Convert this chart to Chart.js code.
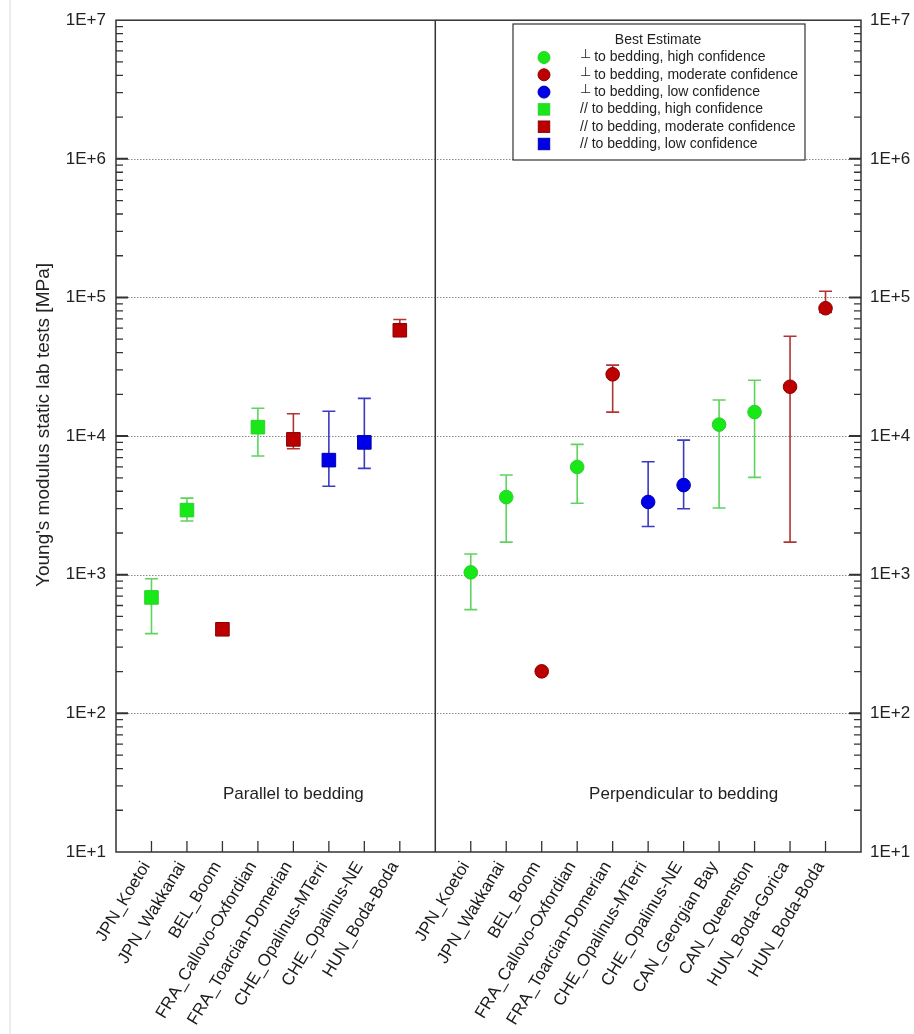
<!DOCTYPE html>
<html>
<head>
<meta charset="utf-8">
<title>Young's modulus static lab tests</title>
<script src="https://cdn.jsdelivr.net/npm/chart.js@4.4.0/dist/chart.umd.min.js"></script>
<style>
  body { margin: 0; background: #fff; }
  #wrap { position: relative; width: 914px; height: 1034px; }
</style>
</head>
<body>
<div id="wrap"><canvas id="youngChart"></canvas></div>
<script>
// sites, parallel to bedding
const parallelSites = ["JPN_Koetoi", "JPN_Wakkanai", "BEL_Boom", "FRA_Callovo-Oxfordian",
  "FRA_Toarcian-Domerian", "CHE_Opalinus-MTerri", "CHE_Opalinus-NE", "HUN_Boda-Boda"];
const parallelBest = [686, 2925, 404, 11600, 9470, 6710, 9010, 58000];
const parallelLow = [376, 2440, null, 7180, 8100, 4350, 5850, 54000];
const parallelHigh = [936, 3570, null, 15900, 14500, 15100, 18700, 69300];
const parallelConf = ["high", "high", "moderate", "high", "moderate", "low", "low", "moderate"];

// sites, perpendicular to bedding
const perpSites = ["JPN_Koetoi", "JPN_Wakkanai", "BEL_Boom", "FRA_Callovo-Oxfordian",
  "FRA_Toarcian-Domerian", "CHE_Opalinus-MTerri", "CHE_Opalinus-NE", "CAN_Georgian Bay",
  "CAN_Queenston", "HUN_Boda-Gorica", "HUN_Boda-Boda"];
const perpBest = [1040, 3630, 201, 5990, 27900, 3350, 4430, 12100, 14900, 22700, 83600];
const perpLow = [560, 1720, null, 3280, 14900, 2230, 2990, 3030, 5040, 1720, 78000];
const perpHigh = [1410, 5240, null, 8710, 32500, 6530, 9360, 18200, 25300, 52500, 111000];
const perpConf = ["high", "high", "moderate", "high", "moderate", "low", "low", "high", "high", "moderate", "moderate"];

const yTickValues = [10, 100, 1000, 10000, 100000, 1000000, 10000000];
const yTickLabels = ["1E+1", "1E+2", "1E+3", "1E+4", "1E+5", "1E+6", "1E+7"];

const groupLabels = ["Parallel to bedding", "Perpendicular to bedding"];
const groupLabelX = [5, 16];
const groupLabelY = 26;

const FONT = "'Liberation Sans', Arial, sans-serif";

// x positions: parallel 1..8, separator 9, perpendicular 10..20
const parallelStart = 1;
const separatorX = parallelSites.length + 1;
const perpStart = separatorX + 1;
const xMax = perpStart + perpSites.length;

const fillColors = { high: "#18e818", moderate: "#bc0000", low: "#0000e8" };
const edgeColors = { high: "#2ccf2c", moderate: "#8a0000", low: "#0000b0" };
const barColors = { high: "#5ed45e", moderate: "#b03434", low: "#3a3ac4" };

function labelAt(v) {
  if (v >= parallelStart && v < separatorX) return parallelSites[v - parallelStart];
  if (v >= perpStart) return perpSites[v - perpStart];
  return "";
}

function makeDataset(label, best, low, high, conf, level, start, style) {
  const pts = [];
  best.forEach((v, i) => {
    if (conf[i] === level) pts.push({ x: start + i, y: v, lo: low[i], hi: high[i] });
  });
  return {
    label: label,
    data: pts,
    pointStyle: style,
    pointRadius: style === "rect" ? 9.6 : 6.8,
    pointHoverRadius: style === "rect" ? 9.6 : 6.8,
    backgroundColor: fillColors[level],
    borderColor: edgeColors[level],
    borderWidth: 1,
    barColor: barColors[level],
    showLine: false
  };
}

const datasets = [
  makeDataset("⊥ to bedding, high confidence", perpBest, perpLow, perpHigh, perpConf, "high", perpStart, "circle"),
  makeDataset("⊥ to bedding, moderate confidence", perpBest, perpLow, perpHigh, perpConf, "moderate", perpStart, "circle"),
  makeDataset("⊥ to bedding, low confidence", perpBest, perpLow, perpHigh, perpConf, "low", perpStart, "circle"),
  makeDataset("// to bedding, high confidence", parallelBest, parallelLow, parallelHigh, parallelConf, "high", parallelStart, "rect"),
  makeDataset("// to bedding, moderate confidence", parallelBest, parallelLow, parallelHigh, parallelConf, "moderate", parallelStart, "rect"),
  makeDataset("// to bedding, low confidence", parallelBest, parallelLow, parallelHigh, parallelConf, "low", parallelStart, "rect")
];

const xTickPositions = [];
parallelSites.forEach((s, i) => xTickPositions.push(parallelStart + i));
perpSites.forEach((s, i) => xTickPositions.push(perpStart + i));

// page background + faint left edge
const background = {
  id: "background",
  beforeDraw(chart) {
    const ctx = chart.ctx;
    ctx.save();
    ctx.fillStyle = "#fff";
    ctx.fillRect(0, 0, chart.width, chart.height);
    ctx.fillStyle = "#ececec";
    ctx.fillRect(9, 0, 2, chart.height);
    ctx.restore();
  }
};

// dotted decade lines, group labels, axis title
const gridLines = {
  id: "gridLines",
  beforeDatasetsDraw(chart) {
    const ctx = chart.ctx, a = chart.chartArea, y = chart.scales.y, x = chart.scales.x;
    ctx.save();
    ctx.strokeStyle = "#8a8a8a";
    ctx.lineWidth = 1;
    ctx.setLineDash([1.5, 1.5]);
    yTickValues.forEach(v => {
      if (v <= y.min || v >= y.max) return;
      const py = Math.round(y.getPixelForValue(v)) + 0.5;
      ctx.beginPath();
      ctx.moveTo(a.left, py);
      ctx.lineTo(a.right, py);
      ctx.stroke();
    });
    ctx.setLineDash([]);

    ctx.fillStyle = "#222";
    ctx.font = "17px " + FONT;
    ctx.textAlign = "center";
    ctx.textBaseline = "middle";
    groupLabels.forEach((t, i) => {
      ctx.fillText(t, x.getPixelForValue(groupLabelX[i]), y.getPixelForValue(groupLabelY));
    });

    ctx.translate(44, 425);
    ctx.rotate(-Math.PI / 2);
    ctx.font = "19px " + FONT;
    ctx.fillText("Young's modulus static lab tests [MPa]", 0, 0);
    ctx.restore();
  }
};

const errorBars = {
  id: "errorBars",
  beforeDatasetsDraw(chart) {
    const ctx = chart.ctx, y = chart.scales.y;
    chart.data.datasets.forEach((ds, di) => {
      const meta = chart.getDatasetMeta(di);
      ctx.save();
      ctx.strokeStyle = ds.barColor;
      ctx.lineWidth = 1.6;
      meta.data.forEach((pt, i) => {
        const d = ds.data[i];
        if (d.lo == null || d.hi == null) return;
        const top = y.getPixelForValue(d.hi), bot = y.getPixelForValue(d.lo);
        ctx.beginPath();
        ctx.moveTo(pt.x, top); ctx.lineTo(pt.x, bot);
        ctx.moveTo(pt.x - 6.5, top); ctx.lineTo(pt.x + 6.5, top);
        ctx.moveTo(pt.x - 6.5, bot); ctx.lineTo(pt.x + 6.5, bot);
        ctx.stroke();
      });
      ctx.restore();
    });
  }
};

// frame, inward tick marks, separator
const frame = {
  id: "frame",
  afterDatasetsDraw(chart) {
    const ctx = chart.ctx, a = chart.chartArea, y = chart.scales.y, x = chart.scales.x;
    ctx.save();
    ctx.strokeStyle = "#333";
    ctx.lineWidth = 1.5;
    ctx.strokeRect(a.left, a.top, a.right - a.left, a.bottom - a.top);

    const sx = x.getPixelForValue(separatorX);
    ctx.beginPath();
    ctx.moveTo(sx, a.top);
    ctx.lineTo(sx, a.bottom);
    ctx.stroke();

    for (let d = y.min; d < y.max; d *= 10) {
      for (let m = 1; m <= 9; m++) {
        const v = m * d;
        if (v <= y.min) continue;
        const py = y.getPixelForValue(v);
        const len = m === 1 ? 12 : 7;
        ctx.lineWidth = m === 1 ? 2 : 1.3;
        ctx.beginPath();
        ctx.moveTo(a.left, py); ctx.lineTo(a.left + len, py);
        ctx.moveTo(a.right, py); ctx.lineTo(a.right - len, py);
        ctx.stroke();
      }
    }
    ctx.lineWidth = 1.3;
    xTickPositions.forEach(v => {
      const px = x.getPixelForValue(v);
      ctx.beginPath();
      ctx.moveTo(px, a.bottom);
      ctx.lineTo(px, a.bottom - 11);
      ctx.stroke();
    });
    ctx.restore();
  }
};

// boxed legend at top right
const boxLegend = {
  id: "boxLegend",
  afterDraw(chart) {
    const ctx = chart.ctx;
    const bx = 513, by = 24, bw = 292, bh = 136;
    ctx.save();
    ctx.fillStyle = "#fff";
    ctx.fillRect(bx, by, bw, bh);
    ctx.strokeStyle = "#333";
    ctx.lineWidth = 1.2;
    ctx.strokeRect(bx, by, bw, bh);

    ctx.fillStyle = "#222";
    ctx.textBaseline = "middle";
    ctx.textAlign = "center";
    ctx.font = "14px " + FONT;
    ctx.fillText("Best Estimate", 658, 40);

    chart.data.datasets.forEach((ds, i) => {
      const ry = 57.5 + i * 17.3;
      const mx = 544;
      ctx.fillStyle = ds.backgroundColor;
      ctx.strokeStyle = ds.borderColor;
      ctx.lineWidth = 1;
      if (ds.pointStyle === "rect") {
        ctx.fillRect(mx - 5.7, ry - 5.7, 11.4, 11.4);
        ctx.strokeRect(mx - 5.7, ry - 5.7, 11.4, 11.4);
      } else {
        ctx.beginPath();
        ctx.arc(mx, ry, 6, 0, Math.PI * 2);
        ctx.fill();
        ctx.stroke();
      }
      ctx.fillStyle = "#222";
      ctx.textAlign = "left";
      let text = ds.label;
      let tx = 580;
      if (text.startsWith("⊥")) {
        ctx.font = "13px 'DejaVu Sans', " + FONT;
        ctx.fillText("⊥", tx, ry - 2.5);
        tx += ctx.measureText("⊥").width - 1;
        text = text.slice(1);
      }
      ctx.font = "14px " + FONT;
      ctx.fillText(text, tx, ry);
    });
    ctx.restore();
  }
};

const yTickFont = { family: FONT, size: 17 };

new Chart(document.getElementById("youngChart"), {
  type: "scatter",
  data: { datasets: datasets },
  options: {
    responsive: true,
    maintainAspectRatio: false,
    animation: false,
    layout: { padding: { top: 19, left: 0, right: 0, bottom: 0 } },
    plugins: {
      legend: { display: false },
      tooltip: { enabled: false }
    },
    scales: {
      x: {
        type: "linear",
        min: 0,
        max: xMax,
        afterBuildTicks: s => { s.ticks = xTickPositions.map(v => ({ value: v })); },
        afterFit: s => { s.height = 182; },
        grid: { display: false, drawTicks: false },
        border: { display: false },
        ticks: {
          autoSkip: false,
          minRotation: 59,
          maxRotation: 59,
          padding: 6,
          labelOffset: -5,
          color: "#1a1a1a",
          font: { family: FONT, size: 17 },
          callback: v => labelAt(v)
        }
      },
      y: {
        type: "logarithmic",
        position: "left",
        min: 10,
        max: 10000000,
        afterBuildTicks: s => { s.ticks = yTickValues.map(v => ({ value: v })); },
        afterFit: s => { s.width = 116; },
        grid: { display: false, drawTicks: false },
        border: { display: false },
        ticks: { color: "#222", padding: 10, font: yTickFont, callback: (v, i) => yTickLabels[i] }
      },
      y2: {
        type: "logarithmic",
        position: "right",
        min: 10,
        max: 10000000,
        afterBuildTicks: s => { s.ticks = yTickValues.map(v => ({ value: v })); },
        afterFit: s => { s.width = 53; },
        grid: { display: false, drawTicks: false },
        border: { display: false },
        ticks: { color: "#222", padding: 9, font: yTickFont, callback: (v, i) => yTickLabels[i] }
      }
    }
  },
  plugins: [background, gridLines, errorBars, frame, boxLegend]
});
</script>
</body>
</html>
